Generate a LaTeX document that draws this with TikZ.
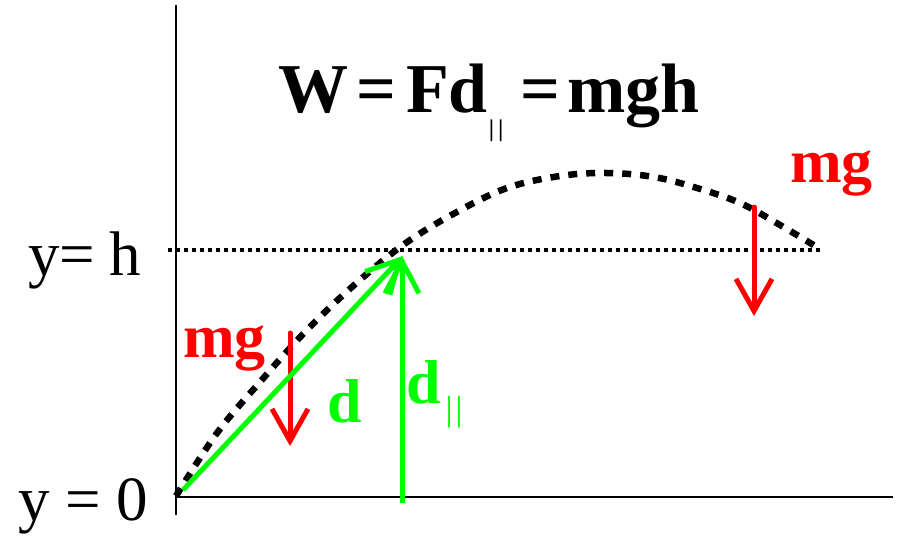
\documentclass[tikz,border=0pt]{standalone}
\usepackage{fontspec}
\setmainfont{Liberation Serif}
\usetikzlibrary{arrows.meta}
\definecolor{myred}{RGB}{255,0,0}
\definecolor{mygreen}{RGB}{0,255,0}
\begin{document}
\begin{tikzpicture}[x=1pt,y=-1pt,
 axis/.style={line width=2pt},
 hline/.style={line width=4pt, dash pattern=on 4pt off 4pt},
 traj/.style={line width=6.5pt, dash pattern=on 9pt off 9pt},
 force/.style={myred, line width=5pt, line cap=round, -{Straight Barb[length=32pt,width=36pt]}},
 disp/.style={mygreen, line width=5pt, -{Straight Barb[length=32pt,width=34pt]}},
 big/.style={font=\fontsize{62}{62}\selectfont\bfseries, inner sep=0pt, anchor=base west},
 lab/.style={font=\fontsize{63}{63}\selectfont, inner sep=0pt, anchor=base west},
 ttl/.style={font=\fontsize{70}{70}\selectfont\bfseries, inner sep=0pt, anchor=base west},
]
\useasboundingbox (0,0) rectangle (901,538);
% axes
\coordinate (vtop) at (176,5);
\coordinate (vbot) at (176,515);
\coordinate (hleft) at (176,497);
\coordinate (hright) at (893,497);
\draw[axis] (vtop) -- (vbot);
\draw[axis] (hleft) -- (hright);
% y = h line
\coordinate (hl) at (168,250);
\coordinate (hr) at (820,250);
\draw[hline] (hl) -- (hr);
% trajectory
\draw[traj] plot[smooth, tension=0.6] coordinates {(176,496) (217,433) (260,382) (305,332) (352,287) (403,245) (455,213) (507,188) (560,176) (607,173) (654,177) (697,188) (740,203) (780,225) (820,249)};
% forces
\coordinate (f1a) at (290,333);
\coordinate (f1b) at (290,446);
\coordinate (f2a) at (754,207);
\coordinate (f2b) at (754,316);
\draw[force] (f1a) -- (f1b);
\draw[force] (f2a) -- (f2b);
% displacements
\coordinate (d1a) at (183,490);
\coordinate (d1b) at (403,256);
\coordinate (d2a) at (402,503);
\coordinate (d2b) at (402,256);
\draw[disp] (d1a) -- (d1b);
\draw[disp] (d2a) -- (d2b);
% labels
\node[ttl] (title) at (278,112) {W\kern8pt=\kern10pt Fd\kern1pt\raisebox{-24pt}{\fontsize{24}{24}\selectfont|\kern4pt|}\kern17pt=\kern7pt mgh};
\node[big, text=myred] (mgR) at (790,182) {mg};
\node[big, text=myred] (mgL) at (183,357) {mg};
\node[big, text=mygreen] (dL) at (327,422) {d};
\node[big, text=mygreen] (dP) at (406,403) {d\kern5pt\raisebox{-17pt}{\fontsize{35}{35}\selectfont\mdseries|\kern3pt|}};
\node[lab] (yh) at (28,275) {y=\kern14pt h};
\node[lab] (y0) at (18,520) {y = 0};
\end{tikzpicture}
\end{document}
